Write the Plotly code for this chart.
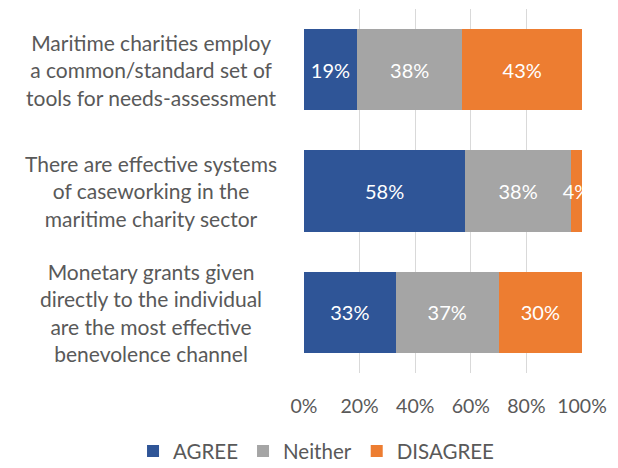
import plotly.graph_objects as go

# Survey statements (top to bottom) and response shares in percent
statements = [
    "Maritime charities employ<br>a common/standard set of<br>tools for needs-assessment",
    "There are effective systems<br>of caseworking in the<br>maritime charity sector",
    "Monetary grants given<br>directly to the individual<br>are the most effective<br>benevolence channel",
]
agree = [19, 58, 33]
neither = [38, 38, 37]
disagree = [43, 4, 30]

series = [
    ("AGREE", agree, "#2F5597"),
    ("Neither", neither, "#A5A5A5"),
    ("DISAGREE", disagree, "#ED7D31"),
]

FONT = "Lato"
GREY = "#595959"

fig = go.Figure()
for name, vals, color in series:
    fig.add_trace(go.Bar(
        y=statements,
        x=[v / 100 for v in vals],
        name=name,
        orientation="h",
        marker=dict(color=color, line=dict(width=0)),
        text=[f"{v}%" for v in vals],
        textposition="inside",
        insidetextanchor="middle",
        textangle=0,
        constraintext="none",
        textfont=dict(color="white", size=20, family=FONT),
        cliponaxis=True,
        hoverinfo="skip",
    ))

# Category labels, centred multi-line text to the left of the bars
for s in statements:
    fig.add_annotation(
        x=-0.55, xref="paper", y=s, yref="y",
        text=s, showarrow=False, xanchor="center", yanchor="middle",
        align="center", font=dict(size=21, color=GREY, family=FONT),
    )

fig.update_layout(
    barmode="stack",
    bargap=0.33,
    width=618, height=468,
    margin=dict(l=303.5, r=36, t=9, b=95, autoexpand=False),
    paper_bgcolor="white", plot_bgcolor="white",
    font=dict(family=FONT, color=GREY, size=19),
    showlegend=True,
    legend=dict(
        orientation="h", x=-0.615, xanchor="left",
        y=-0.27, yanchor="bottom",
        font=dict(size=20.5, color=GREY, family=FONT),
        traceorder="normal", itemwidth=30,
    ),
    xaxis=dict(
        range=[0, 1], tickvals=[0, 0.2, 0.4, 0.6, 0.8, 1.0],
        tickformat=".0%", showgrid=True, gridcolor="#D9D9D9", gridwidth=1,
        zeroline=False, showline=False, ticks="", ticklabelstandoff=19,
        tickfont=dict(size=19.5, color=GREY, family=FONT),
    ),
    yaxis=dict(
        autorange="reversed", showticklabels=False, showgrid=False,
        zeroline=False, showline=False, ticks="",
    ),
)

fig.write_html("out.html")
